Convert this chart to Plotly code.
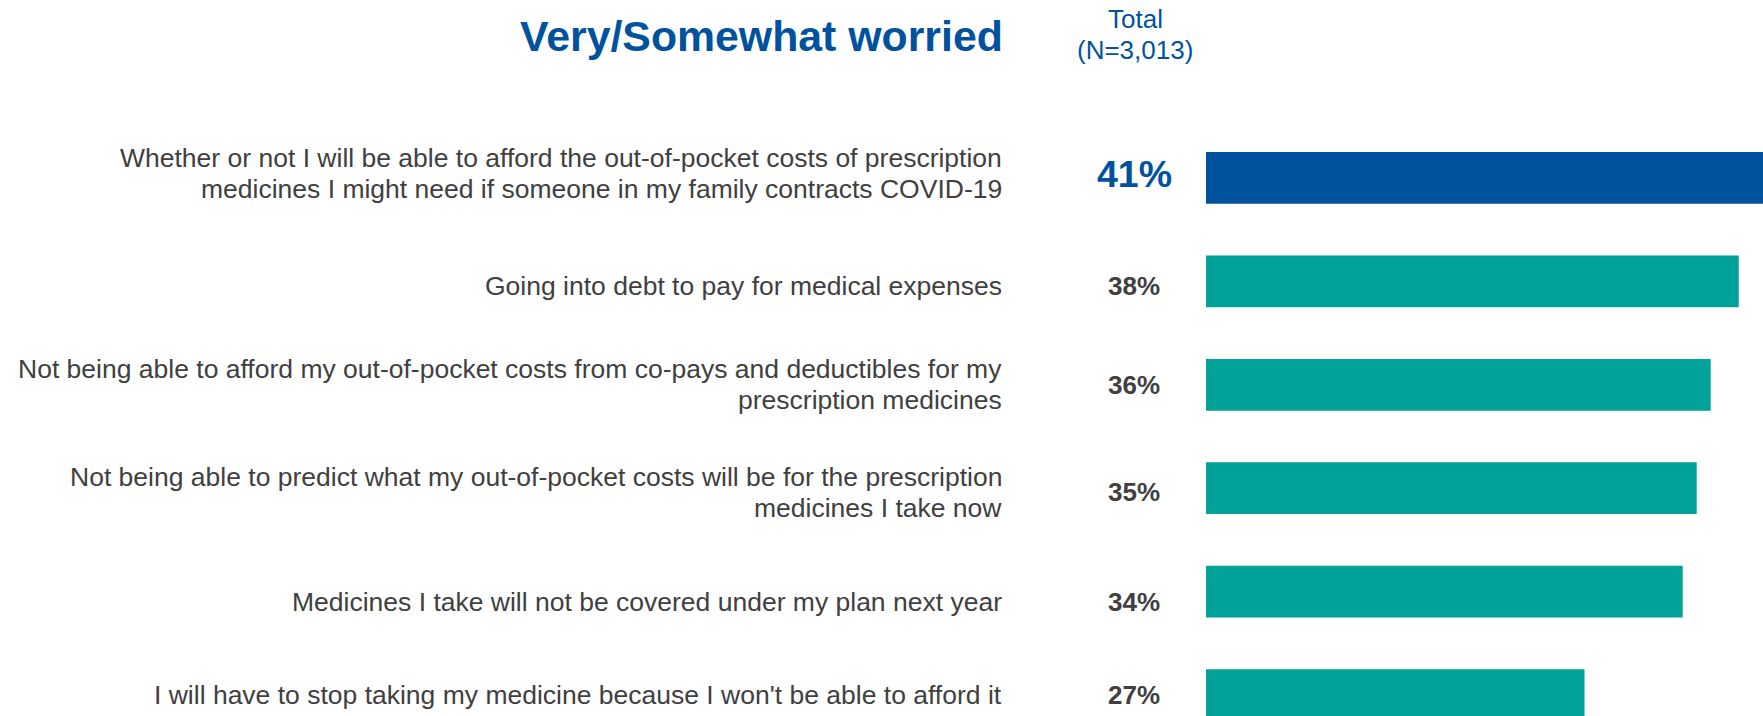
import plotly.graph_objects as go

# Survey items (top to bottom); each entry holds the lines of the label
items = [
    ["Whether or not I will be able to afford the out-of-pocket costs of prescription",
     "medicines I might need if someone in my family contracts COVID-19"],
    ["Going into debt to pay for medical expenses"],
    ["Not being able to afford my out-of-pocket costs from co-pays and deductibles for my",
     "prescription medicines"],
    ["Not being able to predict what my out-of-pocket costs will be for the prescription",
     "medicines I take now"],
    ["Medicines I take will not be covered under my plan next year"],
    ["I will have to stop taking my medicine because I won't be able to afford it"],
]
# Share of respondents very/somewhat worried, %
worried_pct = [41, 38, 36, 35, 34, 27]

W, H = 1763, 716
BLUE = "#00529F"
TEAL = "#00A29A"
GRAY = "#404040"
FONT = "Liberation Sans, Arial, sans-serif"
LINE_GAP = 31                      # px between label lines
ROW_NUDGE = [-4, 5, 0, 4, 10, 0]   # px, downward nudge of each row's texts

positions = list(range(len(items)))
colors = [BLUE] + [TEAL] * (len(items) - 1)

fig = go.Figure()
fig.add_trace(go.Bar(
    x=worried_pct,
    y=positions,
    orientation="h",
    width=0.5,
    marker=dict(color=colors, line=dict(width=0)),
    hoverinfo="skip",
))

annotations = []
for i, (lines, v) in enumerate(zip(items, worried_pct)):
    n = len(lines)
    for k, line in enumerate(lines):
        offset = (k - (n - 1) / 2) * LINE_GAP + ROW_NUDGE[i]
        annotations.append(dict(
            x=1004 / W, xref="paper", y=i, yref="y", yshift=-offset,
            text=line, showarrow=False, xanchor="right", yanchor="middle",
            font=dict(family=FONT, size=26.5, color=GRAY),
        ))
    first = i == 0
    annotations.append(dict(
        x=1134 / W, xref="paper", y=i, yref="y", yshift=-ROW_NUDGE[i],
        text=f"<b>{v}%</b>", showarrow=False, xanchor="center", yanchor="middle",
        font=dict(family=FONT, size=37.5 if first else 26, color=BLUE if first else GRAY),
    ))

# Header texts
annotations.append(dict(
    x=1004.5 / W, xref="paper", y=1 - 36 / H, yref="paper",
    text="<b>Very/Somewhat worried</b>", showarrow=False,
    xanchor="right", yanchor="middle",
    font=dict(family=FONT, size=42.8, color=BLUE),
))
for text, ypx in [("Total", 19), ("(N=3,013)", 50)]:
    annotations.append(dict(
        x=1135 / W, xref="paper", y=1 - ypx / H, yref="paper",
        text=text, showarrow=False, xanchor="center", yanchor="middle",
        font=dict(family=FONT, size=26, color=BLUE),
    ))

fig.update_layout(
    width=W, height=H,
    margin=dict(l=0, r=0, t=0, b=0),
    paper_bgcolor="white", plot_bgcolor="white",
    showlegend=False,
    xaxis=dict(range=[-86.02, 39.73], visible=False, fixedrange=True),
    yaxis=dict(range=[5.203, -1.721], visible=False, fixedrange=True),
    annotations=annotations,
)

fig.write_html("out.html")
